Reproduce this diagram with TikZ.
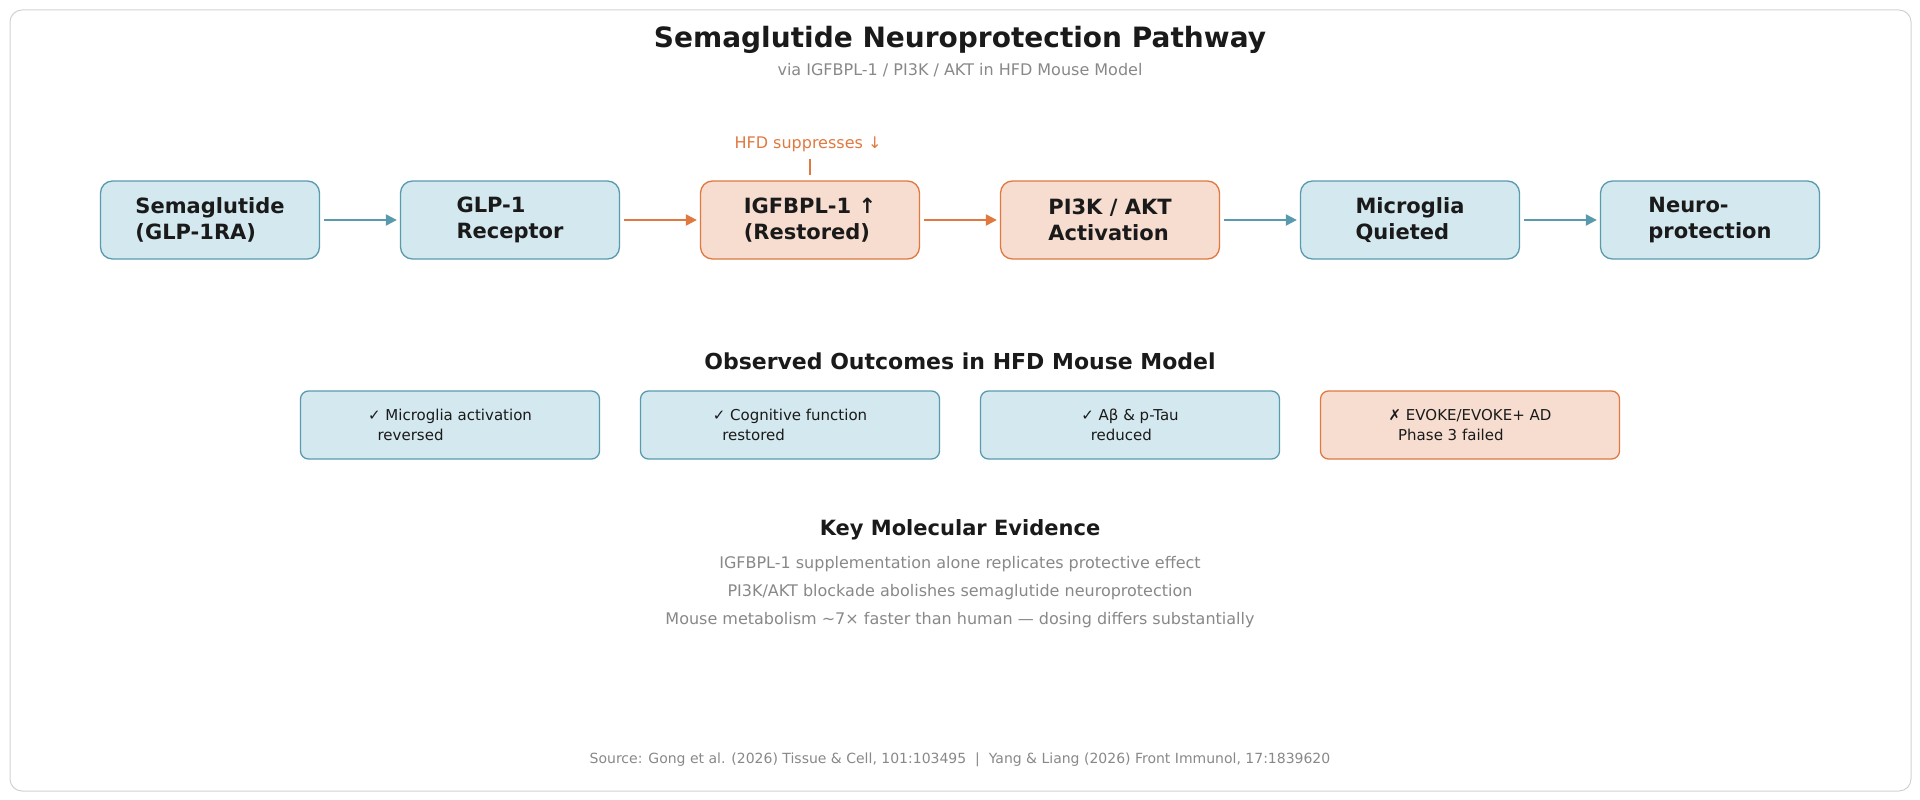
\documentclass[tikz,border=0pt]{standalone}
\usepackage{fontspec}
\setmainfont{DejaVu Sans}
\usetikzlibrary{arrows.meta}
\definecolor{bfill}{HTML}{D4E8EF}\definecolor{bdraw}{HTML}{5A9AAE}
\definecolor{ofill}{HTML}{F6DDD0}\definecolor{odraw}{HTML}{E07840}
\definecolor{txt}{HTML}{1A1A1A}\definecolor{gr}{HTML}{888888}
\begin{document}
\begin{tikzpicture}[x=1pt,y=-1pt,
 top/.style={rounded corners=12pt,line width=1.3pt,minimum width=219pt,minimum height=78pt,align=left,font=\fontsize{21}{26}\selectfont\bfseries,text=txt},
 bt/.style={top,fill=bfill,draw=bdraw},
 ot/.style={top,fill=ofill,draw=odraw},
 outbox/.style={rounded corners=8pt,line width=1.3pt,minimum width=299pt,minimum height=68pt,align=left,font=\fontsize{15}{20}\selectfont,text=txt},
 bo/.style={outbox,fill=bfill,draw=bdraw},
 oo/.style={outbox,fill=ofill,draw=odraw},
 ar/.style={line width=2.2pt,-{Triangle[length=11pt,width=11pt]}},
 gt/.style={text=gr,font=\fontsize{16}{20}\selectfont}]
\useasboundingbox (0,0) rectangle (1920,800);
\draw[rounded corners=12pt,draw=gray!35,line width=1pt] (10,10) rectangle (1911,791);
\node[font=\fontsize{28}{32}\selectfont\bfseries,text=txt] (title) at (960,40) {Semaglutide Neuroprotection Pathway};
\node[gt] (sub) at (960,70) {via IGFBPL-1 / PI3K / AKT in HFD Mouse Model};
\node[bt] (a) at (210,220) {Semaglutide\\(GLP-1RA)};
\node[bt] (b) at (510,220) {GLP-1\\Receptor};
\node[ot] (c) at (810,220) {IGFBPL-1 ↑\\(Restored)};
\node[ot] (d) at (1110,220) {PI3K / AKT\\Activation};
\node[bt] (e) at (1410,220) {Microglia\\Quieted};
\node[bt] (f) at (1710,220) {Neuro-\\protection};
\draw[ar,bdraw] ([xshift=4pt]a.east) -- ([xshift=-3pt]b.west);
\draw[ar,odraw] ([xshift=4pt]b.east) -- ([xshift=-3pt]c.west);
\draw[ar,odraw] ([xshift=4pt]c.east) -- ([xshift=-3pt]d.west);
\draw[ar,bdraw] ([xshift=4pt]d.east) -- ([xshift=-3pt]e.west);
\draw[ar,bdraw] ([xshift=4pt]e.east) -- ([xshift=-3pt]f.west);
\node[text=odraw,font=\fontsize{16}{20}\selectfont] (hfd) at (808,144) {HFD suppresses ↓};
\coordinate (t1) at (810,159);\coordinate (t2) at (810,175);
\draw[odraw,line width=1.3pt] (t1) -- (t2);
\node[font=\fontsize{22}{26}\selectfont\bfseries,text=txt] (obs) at (960,361) {Observed Outcomes in HFD Mouse Model};
\node[bo] (o1) at (450,425) {✓ Microglia activation\\\ \ reversed};
\node[bo] (o2) at (790,425) {✓ Cognitive function\\\ \ restored};
\node[bo] (o3) at (1130,425) {✓ Aβ \& p-Tau\\\ \ reduced};
\node[oo] (o4) at (1470,425) {✗ EVOKE/EVOKE+ AD\\\ \ Phase 3 failed};
\node[font=\fontsize{21}{26}\selectfont\bfseries,text=txt] (key) at (960,530) {Key Molecular Evidence};
\node[gt] (k1) at (960,564) {IGFBPL-1 supplementation alone replicates protective effect};
\node[gt] (k2) at (960,592) {PI3K/AKT blockade abolishes semaglutide neuroprotection};
\node[gt] (k3) at (960,620) {Mouse metabolism \textasciitilde7× faster than human — dosing differs substantially};
\node[text=gr,font=\fontsize{14}{18}\selectfont] (src) at (960,760) {Source: Gong et al. (2026) Tissue \& Cell, 101:103495 \ | \ Yang \& Liang (2026) Front Immunol, 17:1839620};
\end{tikzpicture}
\end{document}
